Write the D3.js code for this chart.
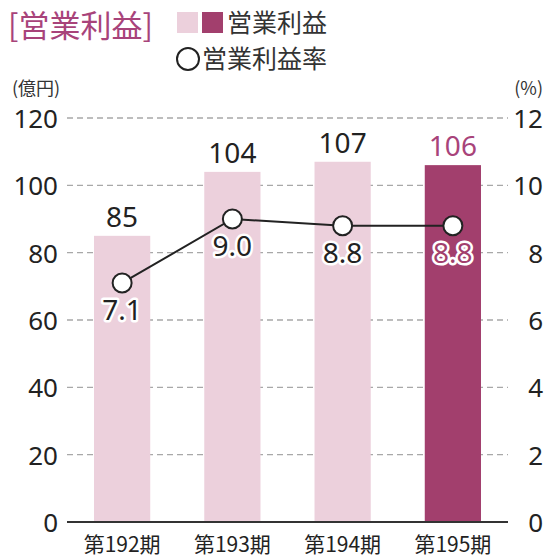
<!DOCTYPE html>
<html>
<head>
<meta charset="utf-8">
<script src="https://cdn.jsdelivr.net/npm/d3@7"></script>
<style>
  body { margin: 0; background: #fff; }
  svg { font-family: "Noto Sans CJK JP", "Noto Sans", sans-serif; }
</style>
</head>
<body>
<svg width="549" height="558"></svg>
<script>
let width = 549, height = 558;

// data
let periods = ["第192期", "第193期", "第194期", "第195期"];
let profit = [85, 104, 107, 106];
let rate = [7.1, 9.0, 8.8, 8.8];
let leftTicks = [0, 20, 40, 60, 80, 100, 120];
let rightTicks = [0, 2, 4, 6, 8, 10, 12];

let light = "#ecd0dc", dark = "#a23f6d", accent = "#a8437a";

let svg = d3.select("svg");

let x = d3.scaleBand()
    .domain(periods)
    .range([67, 508])
    .paddingInner(0.49)
    .paddingOuter(0.245);

let y = d3.scaleLinear().domain([0, 120]).range([522, 118]);
let yr = d3.scaleLinear().domain([0, 12]).range([522, 118]);

// gridlines
svg.append("g")
    .selectAll("line")
    .data(leftTicks.filter(d => d > 0))
    .enter()
    .append("line")
    .attr("x1", 67).attr("x2", 508)
    .attr("y1", d => y(d)).attr("y2", d => y(d))
    .attr("stroke", "#a8a8a8")
    .attr("stroke-width", 1.3)
    .attr("stroke-dasharray", "6,4");

// bars
svg.append("g")
    .selectAll("rect")
    .data(profit)
    .enter()
    .append("rect")
    .attr("x", (d, i) => x(periods[i]))
    .attr("width", x.bandwidth())
    .attr("y", d => y(d))
    .attr("height", d => y(0) - y(d))
    .attr("fill", (d, i) => i == 3 ? dark : light);

// baseline
svg.append("line")
    .attr("x1", 67).attr("x2", 508)
    .attr("y1", y(0)).attr("y2", y(0))
    .attr("stroke", "#333")
    .attr("stroke-width", 2);

// left axis
let leftAxis = svg.append("g")
    .attr("transform", "translate(58,0)")
    .call(d3.axisLeft(y).tickValues(leftTicks).tickSize(0).tickPadding(0));
leftAxis.select(".domain").remove();
leftAxis.selectAll("text")
    .attr("font-size", 26)
    .attr("fill", "#222")
    .attr("dy", "0.36em")
    .style("font-family", "'Noto Sans', sans-serif");

// right axis
let rightAxis = svg.append("g")
    .attr("transform", "translate(543,0)")
    .call(d3.axisLeft(yr).tickValues(rightTicks).tickSize(0).tickPadding(0));
rightAxis.select(".domain").remove();
rightAxis.selectAll("text")
    .attr("font-size", 26)
    .attr("fill", "#222")
    .attr("dy", "0.36em")
    .style("font-family", "'Noto Sans', sans-serif");

// category labels
svg.append("g")
    .selectAll("text")
    .data(periods)
    .enter()
    .append("text")
    .attr("x", d => x(d) + x.bandwidth() / 2)
    .attr("y", 552)
    .attr("text-anchor", "middle")
    .attr("font-size", 21)
    .attr("fill", "#222")
    .text(d => d);

// bar value labels
svg.append("g")
    .selectAll("text")
    .data(profit)
    .enter()
    .append("text")
    .attr("x", (d, i) => x(periods[i]) + x.bandwidth() / 2)
    .attr("y", d => y(d) - 9)
    .attr("text-anchor", "middle")
    .attr("font-size", 28)
    .attr("fill", (d, i) => i == 3 ? accent : "#222")
    .style("font-family", "'Noto Sans', sans-serif")
    .text(d => d);

// rate line
let line = d3.line()
    .x((d, i) => x(periods[i]) + x.bandwidth() / 2)
    .y(d => yr(d));

svg.append("path")
    .datum(rate)
    .attr("d", line)
    .attr("fill", "none")
    .attr("stroke", "#222")
    .attr("stroke-width", 2);

svg.append("g")
    .selectAll("circle")
    .data(rate)
    .enter()
    .append("circle")
    .attr("cx", (d, i) => x(periods[i]) + x.bandwidth() / 2)
    .attr("cy", d => yr(d))
    .attr("r", 9.5)
    .attr("fill", "#fff")
    .attr("stroke", "#222")
    .attr("stroke-width", 2);

// rate labels
svg.append("g")
    .selectAll("text")
    .data(rate)
    .enter()
    .append("text")
    .attr("x", (d, i) => x(periods[i]) + x.bandwidth() / 2)
    .attr("y", d => yr(d) + 37)
    .attr("text-anchor", "middle")
    .attr("font-size", 28)
    .attr("fill", (d, i) => i == 3 ? dark : "#222")
    .attr("stroke", "#fff")
    .attr("stroke-width", 5)
    .attr("stroke-linejoin", "round")
    .attr("paint-order", "stroke")
    .style("font-family", "'Noto Sans', sans-serif")
    .text(d => d.toFixed(1));

// title
svg.append("text")
    .attr("x", 8).attr("y", 37)
    .attr("font-size", 31)
    .attr("fill", accent)
    .text("[営業利益]");

// legend
svg.append("rect").attr("x", 177).attr("y", 12).attr("width", 21).attr("height", 21).attr("fill", light);
svg.append("rect").attr("x", 202).attr("y", 12).attr("width", 21).attr("height", 21).attr("fill", dark);
svg.append("text")
    .attr("x", 227).attr("y", 32)
    .attr("font-size", 25)
    .attr("fill", "#333")
    .text("営業利益");
svg.append("circle")
    .attr("cx", 188).attr("cy", 59).attr("r", 11)
    .attr("fill", "#fff").attr("stroke", "#222").attr("stroke-width", 2);
svg.append("text")
    .attr("x", 202).attr("y", 68)
    .attr("font-size", 25)
    .attr("fill", "#333")
    .text("営業利益率");

// units
svg.append("text")
    .attr("x", 12).attr("y", 95)
    .attr("font-size", 18)
    .attr("fill", "#333")
    .text("(億円)");
svg.append("text")
    .attr("x", 543).attr("y", 95)
    .attr("text-anchor", "end")
    .attr("font-size", 18)
    .attr("fill", "#333")
    .text("(%)");
</script>
</body>
</html>
